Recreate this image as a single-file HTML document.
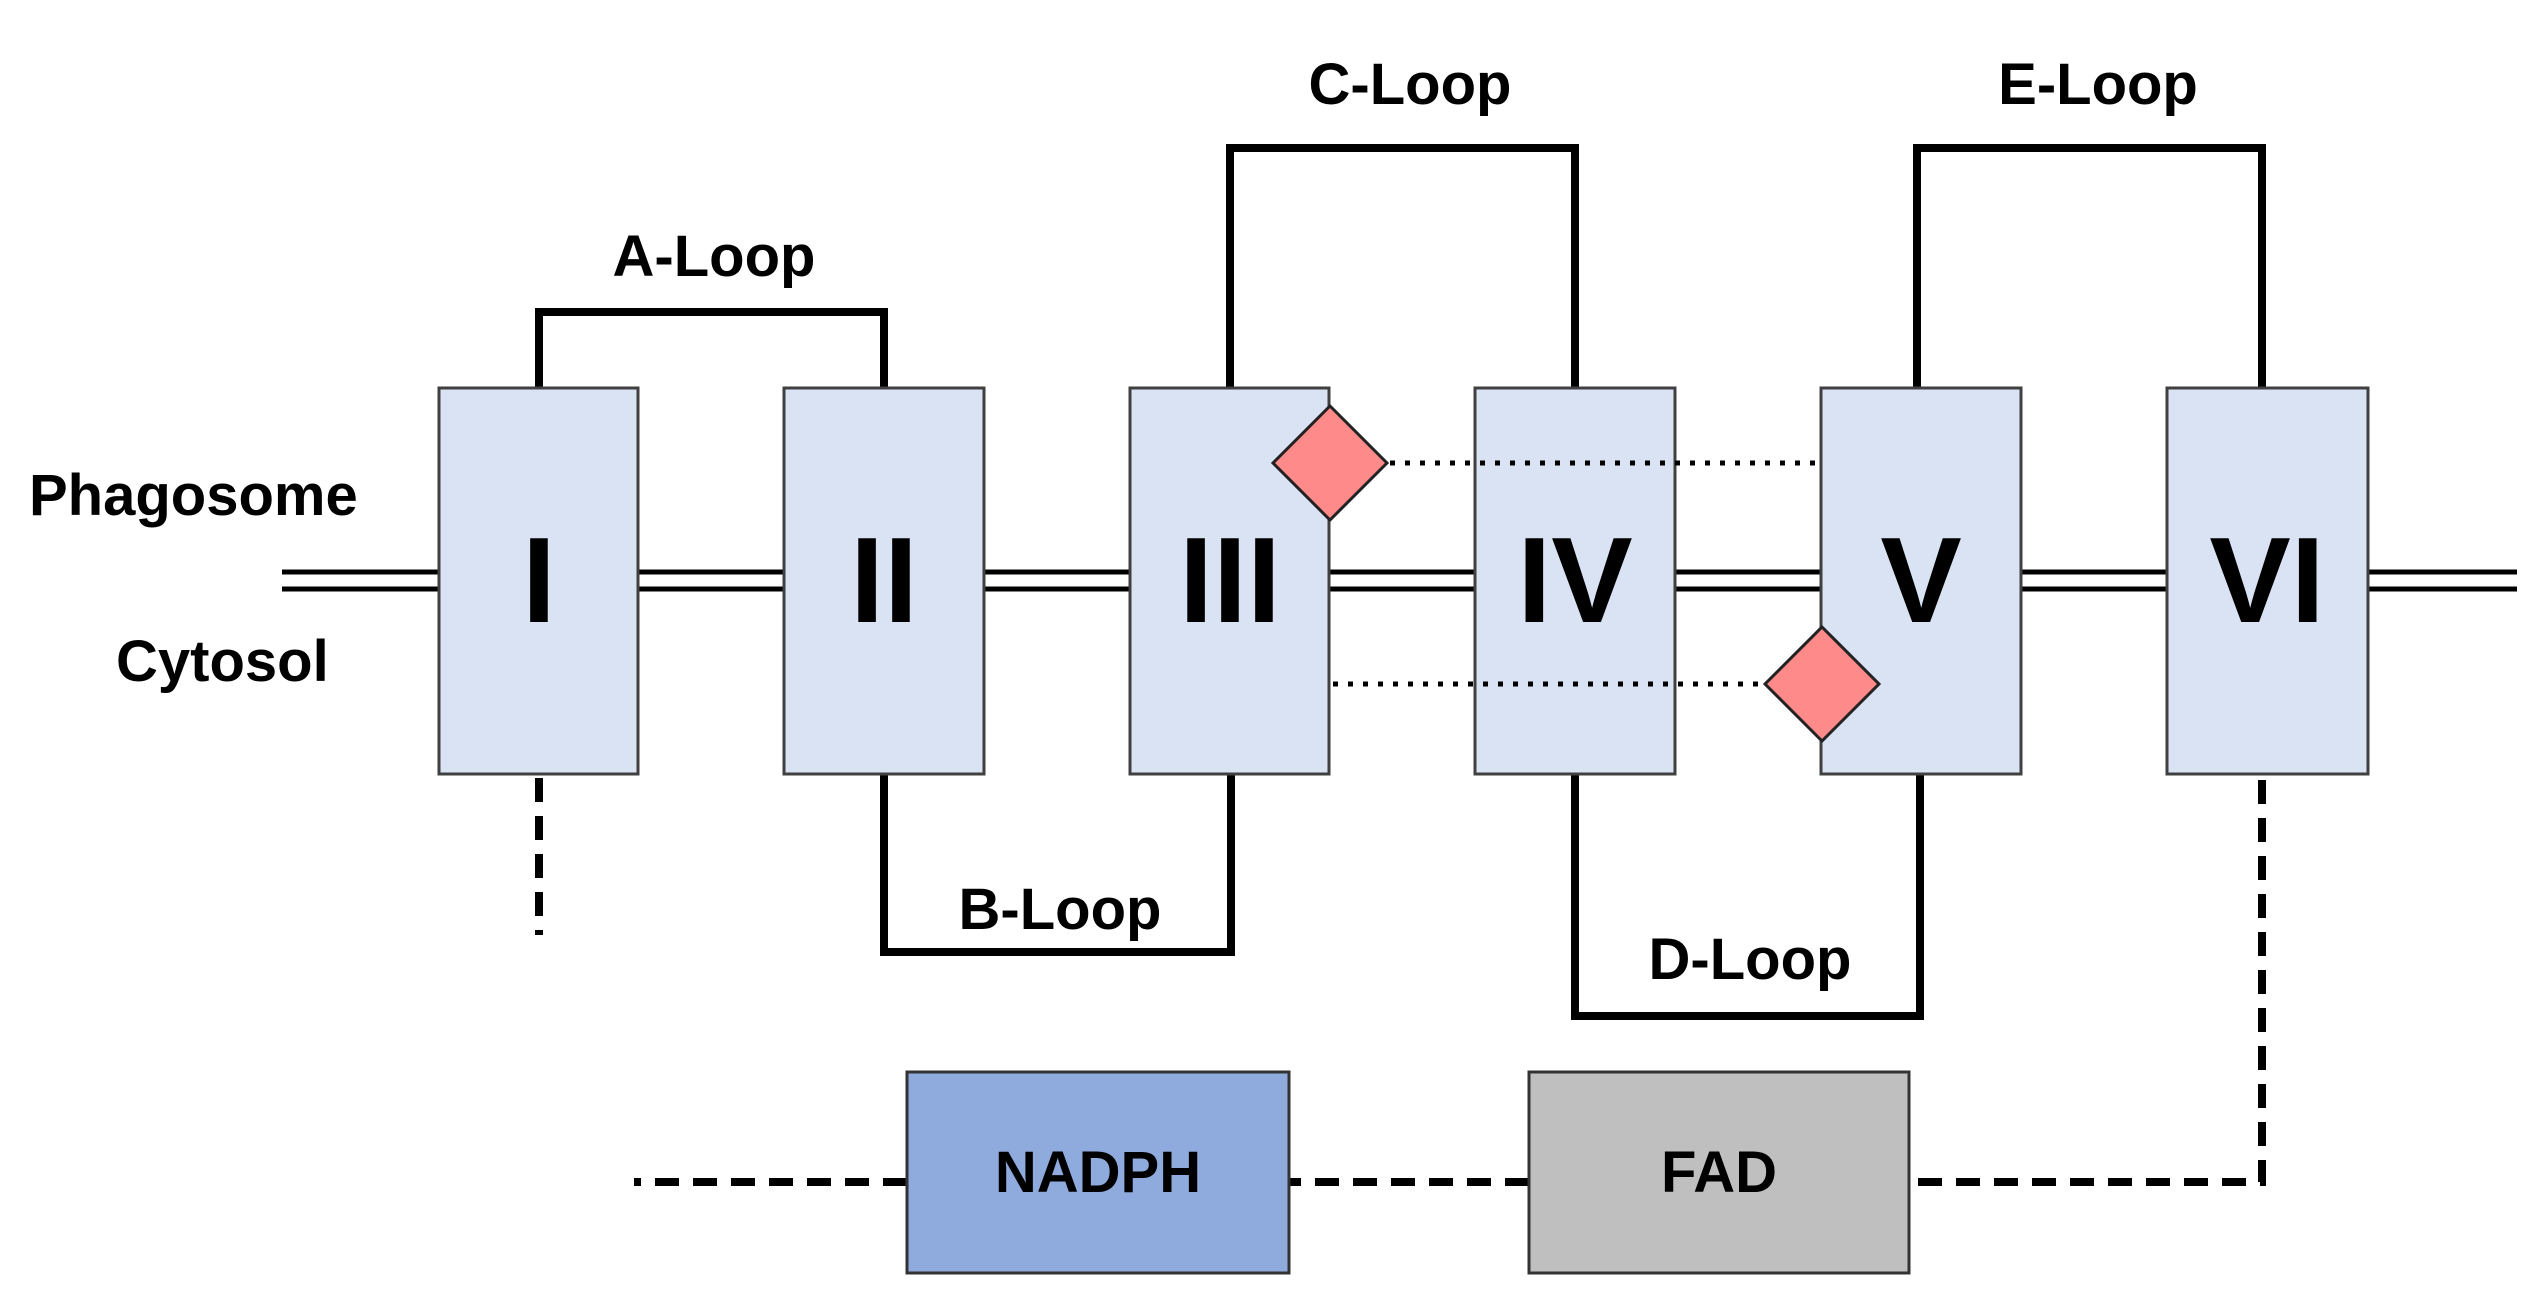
<!DOCTYPE html>
<html><head><meta charset="utf-8"><style>
html,body{margin:0;padding:0;background:#fff}
svg{display:block}
text{font-family:"Liberation Sans",sans-serif;font-weight:bold;fill:#000}
</style></head><body>
<svg width="2533" height="1292" viewBox="0 0 2533 1292" xmlns="http://www.w3.org/2000/svg">
<!-- membrane -->
<g stroke="#000" stroke-width="5">
<line x1="282" y1="572" x2="2517" y2="572"/>
<line x1="282" y1="589" x2="2517" y2="589"/>
</g>
<!-- loops -->
<g stroke="#000" stroke-width="8" fill="none" stroke-linejoin="miter">
<polyline points="539,388 539,312 884,312 884,388"/>
<polyline points="1230,388 1230,148 1575,148 1575,388"/>
<polyline points="1917,388 1917,148 2262,148 2262,388"/>
<polyline points="884,774 884,952 1231,952 1231,774"/>
<polyline points="1575,774 1575,1016 1920,1016 1920,774"/>
</g>
<!-- dashed -->
<g stroke="#000" stroke-width="8" fill="none" stroke-dasharray="24,14">
<line x1="539" y1="778" x2="539" y2="935"/>
<polyline points="2262,780 2262,1182 1909,1182"/>
<line x1="1529" y1="1182" x2="1289" y2="1182"/>
<line x1="907" y1="1182" x2="634" y2="1182"/>
</g>
<!-- boxes -->
<g fill="#dae3f3" stroke="#404040" stroke-width="3">
<rect x="439" y="388" width="199" height="386"/>
<rect x="784" y="388" width="200" height="386"/>
<rect x="1130" y="388" width="199" height="386"/>
<rect x="1475" y="388" width="200" height="386"/>
<rect x="1821" y="388" width="200" height="386"/>
<rect x="2167" y="388" width="201" height="386"/>
</g>
<!-- dotted -->
<g stroke="#000" stroke-width="5" stroke-dasharray="5,10">
<line x1="1390" y1="463" x2="1821" y2="463"/>
<line x1="1333" y1="684" x2="1765" y2="684"/>
</g>
<!-- diamonds -->
<g fill="#ff8a8a" stroke="#222" stroke-width="3">
<polygon points="1330,406 1387,463 1330,520 1273,463"/>
<polygon points="1822,627 1879,684 1822,741 1765,684"/>
</g>
<!-- numerals -->
<g font-size="122" text-anchor="middle">
<text x="539" y="622">I</text>
<text x="884" y="622">II</text>
<text x="1230" y="622">III</text>
<text x="1575" y="622">IV</text>
<text x="1921" y="622">V</text>
<text x="2267" y="622">VI</text>
</g>
<!-- labels -->
<g font-size="58" text-anchor="middle">
<text x="714" y="276">A-Loop</text>
<text x="1410" y="104">C-Loop</text>
<text x="2098" y="104">E-Loop</text>
<text x="1060" y="929">B-Loop</text>
<text x="1750" y="979">D-Loop</text>
</g>
<text x="29" y="515" font-size="58">Phagosome</text>
<text x="116" y="681" font-size="58">Cytosol</text>
<!-- cofactors -->
<rect x="907" y="1072" width="382" height="201" fill="#8faadc" stroke="#333" stroke-width="3"/>
<rect x="1529" y="1072" width="380" height="201" fill="#bfbfbf" stroke="#333" stroke-width="3"/>
<text x="1098" y="1192" font-size="58" text-anchor="middle">NADPH</text>
<text x="1719" y="1192" font-size="58" text-anchor="middle">FAD</text>
</svg>
</body></html>
